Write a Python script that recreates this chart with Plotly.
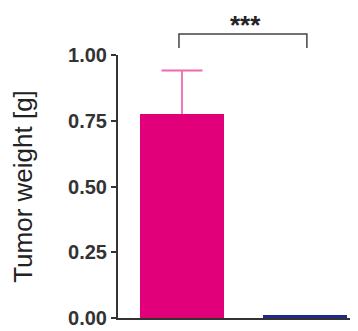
import plotly.graph_objects as go

categories = ["Control", "Treated"]
values = [0.776, 0.012]
errors_plus = [0.165, 0.0]
bar_colors = ["#e2007a", "#1f2a8c"]
tick_vals = [0.0, 0.25, 0.5, 0.75, 1.0]
tick_text = ["0.00", "0.25", "0.50", "0.75", "1.00"]
y_title = "Tumor weight [g]"
sig_label = "***"

cap_half = 0.167
err_x, err_y = [], []
for i, (v, e) in enumerate(zip(values, errors_plus)):
    if e > 0:
        err_x += [i, i, None, i - cap_half, i + cap_half, None]
        err_y += [v, v + e, None, v + e, v + e, None]

fig = go.Figure()
fig.add_trace(go.Bar(
    x=[0, 1], y=values,
    marker=dict(color=bar_colors, line=dict(width=0)),
    width=0.68, showlegend=False,
))
fig.add_trace(go.Scatter(
    x=err_x, y=err_y, mode="lines",
    line=dict(color="#f069b0", width=1.8),
    showlegend=False, hoverinfo="skip",
))

fig.update_layout(
    width=350, height=323,
    margin=dict(l=110, r=0, t=47, b=13),
    plot_bgcolor="white", paper_bgcolor="white",
    bargap=0,
    xaxis=dict(range=[-0.52, 1.43], showticklabels=False, ticks="",
               showline=True, linecolor="#333", linewidth=2,
               showgrid=False, zeroline=False, fixedrange=True),
    yaxis=dict(range=[0, 1.0], tickvals=tick_vals, ticktext=tick_text,
               ticks="outside", ticklen=5, tickwidth=2, tickcolor="#333",
               showline=True, linecolor="#333", linewidth=2,
               showgrid=False, zeroline=False,
               tickfont=dict(family="Liberation Sans, Arial", size=20,
                             color="#333", weight="bold"),
               title=dict(text=y_title, standoff=28,
                          font=dict(family="Liberation Sans, Arial", size=26,
                                    color="#222"))),
    shapes=[dict(type="path", xref="paper", yref="paper",
                 path="M 0.254 1.027 L 0.254 1.08 L 0.787 1.08 L 0.787 1.027",
                 line=dict(color="#444", width=1.5))],
    annotations=[dict(text=sig_label, xref="paper", yref="paper",
                      x=0.533, y=1.1787, yanchor="top", valign="top",
                      height=22, showarrow=False,
                      font=dict(family="Liberation Sans, Arial", size=26,
                                color="#222", weight="bold"))],
)

fig.write_html("out.html")
